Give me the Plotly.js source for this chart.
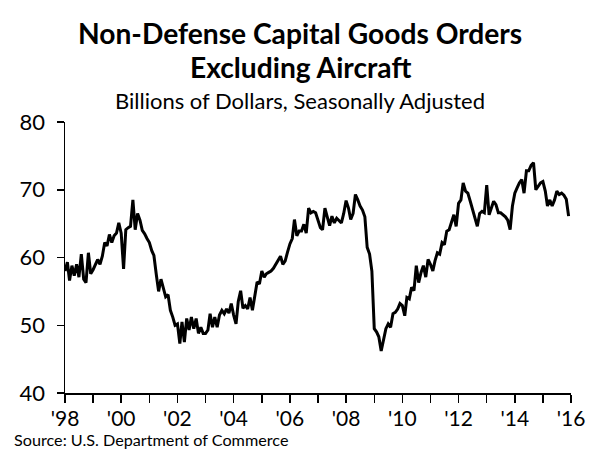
<!DOCTYPE html>
<html>
<head>
<meta charset="utf-8">
<script src="https://cdn.plot.ly/plotly-3.0.1.min.js"></script>
<style>
  html, body { margin: 0; padding: 0; background: #fff; }
  #chart { width: 592px; height: 473px; }
</style>
</head>
<body>
<div id="chart"></div>
<script>
// Monthly series, Jan 1998 - Dec 2015 (billions of dollars, SA)
const startYear = 1998;
const orders = [
  // 1998
  58.0, 59.3, 56.6, 58.8, 57.3, 59.0, 57.1, 60.5, 56.8, 56.3, 60.7, 57.6,
  // 1999
  58.2, 59.0, 59.7, 59.0, 60.2, 62.2, 61.7, 63.4, 62.2, 63.2, 63.6, 65.1,
  // 2000
  63.6, 58.3, 64.1, 64.4, 64.6, 68.5, 64.1, 66.5, 65.5, 64.0, 63.5, 62.8,
  // 2001
  62.2, 61.0, 60.3, 57.5, 55.0, 56.8, 55.4, 54.2, 54.5, 52.2, 51.2, 50.0,
  // 2002
  50.2, 47.3, 50.5, 47.5, 51.0, 49.3, 51.2, 49.5, 51.0, 48.8, 49.7, 48.8,
  // 2003
  48.8, 49.3, 51.7, 49.7, 51.2, 49.7, 51.5, 52.2, 51.7, 52.4, 51.8, 53.2,
  // 2004
  51.5, 50.2, 53.5, 55.1, 52.5, 52.9, 52.4, 54.1, 52.2, 54.4, 56.4, 56.1,
  // 2005
  58.0, 57.1, 57.6, 57.8, 58.0, 58.4, 59.0, 59.6, 60.2, 59.0, 59.5, 60.8,
  // 2006
  62.0, 62.8, 65.6, 63.2, 63.9, 63.9, 64.9, 63.6, 67.3, 66.6, 66.8, 66.6,
  // 2007
  65.6, 64.4, 64.1, 67.3, 66.0, 64.7, 66.1, 65.1, 65.8, 65.4, 65.1, 66.5,
  // 2008
  68.4, 67.3, 65.6, 66.5, 69.3, 68.5, 67.6, 67.0, 66.0, 61.5, 60.5, 58.0,
  // 2009
  49.5, 49.0, 48.3, 46.2, 48.0, 49.5, 50.2, 49.7, 51.7, 51.9, 52.4, 53.2,
  // 2010
  52.9, 51.4, 54.1, 53.9, 55.6, 55.1, 58.8, 56.3, 57.8, 58.8, 57.1, 59.7,
  // 2011
  59.0, 58.0, 59.5, 60.7, 60.5, 62.2, 61.9, 63.9, 64.1, 65.3, 66.3, 64.6,
  // 2012
  68.0, 68.5, 71.0, 69.8, 69.5, 68.3, 67.0, 65.8, 64.6, 66.5, 66.8, 66.6,
  // 2013
  70.7, 66.3, 67.3, 68.3, 67.8, 66.6, 66.6, 66.3, 66.0, 65.5, 64.1, 67.6,
  // 2014
  69.5, 70.3, 71.0, 71.5, 69.5, 72.8, 72.8, 73.6, 74.0, 70.0, 70.6, 71.0,
  // 2015
  71.2, 69.8, 67.6, 68.5, 67.6, 68.5, 69.8, 69.3, 69.5, 69.2, 68.6, 66.1
];

// Axis ticks
const tickYears = [1998,1999,2000,2001,2002,2003,2004,2005,2006,2007,2008,2009,2010,2011,2012,2013,2014,2015,2016];
const tickLabels = ["'98","","'00","","'02","","'04","","'06","","'08","","'10","","'12","","'14","","'16"];
const yTicks = [40, 50, 60, 70, 80];

const titleLine1 = "Non-Defense Capital Goods Orders";
const titleLine2 = "Excluding Aircraft";
const subtitle = "Billions of Dollars, Seasonally Adjusted";
const source = "Source: U.S. Department of Commerce";

function pad(n) { return n < 10 ? '0' + n : '' + n; }
const dates = orders.map((v, i) => {
  const y = startYear + Math.floor(i / 12);
  const m = (i % 12) + 1;
  return y + '-' + pad(m) + '-01';
});
const tickDates = tickYears.map(y => y + '-01-01');

const FONT = 'Lato, "Open Sans", sans-serif';

const trace = {
  x: dates,
  y: orders,
  type: 'scatter',
  mode: 'lines',
  line: { color: '#000000', width: 3 },
  hoverinfo: 'skip'
};

const layout = {
  width: 592,
  height: 473,
  margin: { l: 65, r: 21, t: 122, b: 80 },
  paper_bgcolor: '#ffffff',
  plot_bgcolor: '#ffffff',
  showlegend: false,
  font: { family: FONT, color: '#000000', size: 20 },
  xaxis: {
    type: 'date',
    range: [tickDates[0], tickDates[tickDates.length - 1]],
    tickmode: 'array',
    tickvals: tickDates,
    ticktext: tickLabels,
    ticks: 'outside',
    ticklen: 8,
    tickwidth: 1.5,
    tickcolor: '#000',
    showline: true,
    linecolor: '#000',
    linewidth: 1.5,
    showgrid: false,
    zeroline: false,
    ticklabelstandoff: -2,
    tickfont: { family: FONT, size: 21, color: '#000' },
    fixedrange: true
  },
  yaxis: {
    range: [40, 80],
    tickmode: 'array',
    tickvals: yTicks,
    ticktext: yTicks.map(String),
    ticks: 'outside',
    ticklen: 7,
    tickwidth: 1.5,
    tickcolor: '#000',
    showline: true,
    linecolor: '#000',
    linewidth: 1.5,
    showgrid: false,
    zeroline: false,
    ticklabelstandoff: 7,
    tickfont: { family: FONT, size: 22, color: '#000' },
    fixedrange: true
  },
  annotations: [
    { text: '<b>' + titleLine1 + '</b>', xref: 'paper', yref: 'paper',
      x: (300 - 65) / 506, y: (393 - 33) / 271, xanchor: 'center', yanchor: 'middle',
      showarrow: false, font: { family: FONT, size: 28.2, color: '#000' } },
    { text: '<b>' + titleLine2 + '</b>', xref: 'paper', yref: 'paper',
      x: (300 - 65) / 506, y: (393 - 67) / 271, xanchor: 'center', yanchor: 'middle',
      showarrow: false, font: { family: FONT, size: 28.2, color: '#000' } },
    { text: subtitle, xref: 'paper', yref: 'paper',
      x: (300 - 65) / 506, y: (393 - 101) / 271, xanchor: 'center', yanchor: 'middle',
      showarrow: false, font: { family: FONT, size: 22, color: '#000' } },
    { text: source, xref: 'paper', yref: 'paper',
      x: (12 - 65) / 506, y: (393 - 439) / 271, xanchor: 'left', yanchor: 'middle',
      showarrow: false, font: { family: FONT, size: 16.2, color: '#000' } }
  ]
};

Plotly.newPlot('chart', [trace], layout, { displayModeBar: false, staticPlot: true });
</script>
</body>
</html>
